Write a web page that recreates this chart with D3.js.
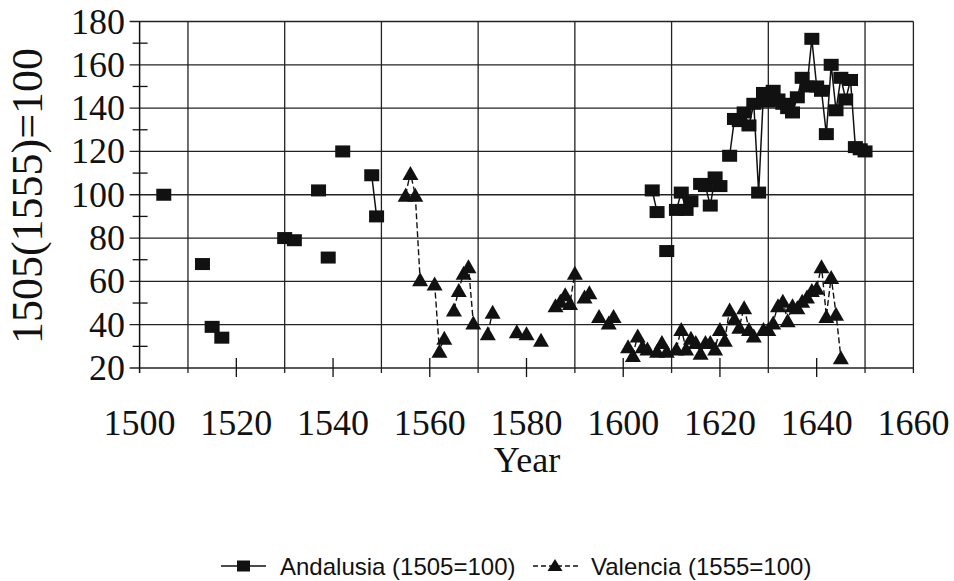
<!DOCTYPE html>
<html>
<head>
<meta charset="utf-8">
<script src="https://cdn.jsdelivr.net/npm/d3@7"></script>
<style>
  body { margin: 0; background: #fff; }
  svg { display: block; }
</style>
</head>
<body>
<div id="chart"></div>
<script>
// values
const andalusiaYears = [1505, 1513, 1515, 1517, 1530, 1532, 1537, 1539, 1542, 1548, 1549,
  1606, 1607, 1609, 1611, 1612, 1613, 1614, 1616, 1617, 1618, 1619, 1620,
  1622, 1623, 1624, 1625, 1626, 1627, 1628, 1629, 1630, 1631, 1632, 1633, 1634, 1635,
  1636, 1637, 1638, 1639, 1640, 1641, 1642, 1643, 1644, 1645, 1646, 1647, 1648, 1649, 1650];
const andalusiaValues = [100, 68, 39, 34, 80, 79, 102, 71, 120, 109, 90,
  102, 92, 74, 93, 101, 93, 97, 105, 104, 95, 108, 104,
  118, 135, 134, 138, 132, 142, 101, 147, 143, 148, 144, 142, 140, 138,
  145, 154, 150, 172, 150, 148, 128, 160, 139, 154, 144, 153, 122, 121, 120];

const valenciaYears = [1555, 1556, 1557, 1558, 1561, 1562, 1563, 1565, 1566, 1567, 1568, 1569,
  1572, 1573, 1578, 1580, 1583, 1586, 1587, 1588, 1589, 1590, 1592, 1593, 1595, 1597, 1598,
  1601, 1602, 1603, 1604, 1605, 1607, 1608, 1609, 1611, 1612, 1613, 1614, 1615, 1616, 1617,
  1618, 1619, 1620, 1621, 1622, 1623, 1624, 1625, 1626, 1627, 1629, 1630, 1631, 1632, 1633,
  1634, 1635, 1636, 1637, 1638, 1639, 1640, 1641, 1642, 1643, 1644, 1645];
const valenciaValues = [100, 110, 100, 61, 59, 28, 34, 47, 56, 64, 67, 41,
  36, 46, 37, 36, 33, 49, 51, 54, 50, 64, 53, 55, 44, 41, 44,
  30, 26, 35, 30, 29, 28, 32, 28, 29, 38, 29, 34, 32, 27, 32,
  32, 29, 38, 33, 47, 43, 39, 48, 38, 35, 38, 38, 41, 49, 51,
  42, 49, 48, 51, 53, 56, 57, 67, 44, 62, 45, 25];

const xTickLabels = [1500, 1520, 1540, 1560, 1580, 1600, 1620, 1640, 1660];
const xGridYears = [1510, 1530, 1550, 1570, 1590, 1610, 1630, 1650, 1660];
const yTickLabels = [20, 40, 60, 80, 100, 120, 140, 160, 180];
const yMinorTicks = [30, 50, 70, 90, 110, 130, 150, 170];

const seriesNames = ["Andalusia (1505=100)", "Valencia (1555=100)"];

const width = 954, height = 581;
const plotLeft = 139.6, plotRight = 913.4, plotTop = 21.5, plotBottom = 368;
const ink = "#111";
const serif = "Liberation Serif, Times New Roman, serif";

const svg = d3.select("#chart").append("svg")
  .attr("width", width)
  .attr("height", height);

const x = d3.scaleLinear().domain([1500, 1660]).range([plotLeft, plotRight]);
const y = d3.scaleLinear().domain([20, 180]).range([plotBottom, plotTop]);

// horizontal gridlines (stick out a bit to the left like ticks)
svg.append("g").selectAll("line")
  .data(yTickLabels)
  .join("line")
  .attr("x1", plotLeft - 10).attr("x2", plotRight)
  .attr("y1", d => y(d)).attr("y2", d => y(d))
  .attr("stroke", "#222").attr("stroke-width", 1.3);

// vertical gridlines at odd decades
svg.append("g").selectAll("line")
  .data(xGridYears)
  .join("line")
  .attr("x1", d => x(d)).attr("x2", d => x(d))
  .attr("y1", plotTop).attr("y2", plotBottom + 5)
  .attr("stroke", "#222").attr("stroke-width", 1.3);

// left axis
svg.append("line")
  .attr("x1", plotLeft).attr("x2", plotLeft)
  .attr("y1", plotTop).attr("y2", plotBottom + 5)
  .attr("stroke", ink).attr("stroke-width", 1.5);

// minor y ticks crossing the axis
svg.append("g").selectAll("line")
  .data(yMinorTicks)
  .join("line")
  .attr("x1", plotLeft - 7).attr("x2", plotLeft + 8)
  .attr("y1", d => y(d)).attr("y2", d => y(d))
  .attr("stroke", ink).attr("stroke-width", 1.3);

// x ticks crossing the bottom axis
svg.append("g").selectAll("line")
  .data(xTickLabels.slice(1, -1))
  .join("line")
  .attr("x1", d => x(d)).attr("x2", d => x(d))
  .attr("y1", plotBottom - 10).attr("y2", plotBottom + 9)
  .attr("stroke", ink).attr("stroke-width", 1.3);

// tick labels
svg.append("g").selectAll("text")
  .data(yTickLabels)
  .join("text")
  .attr("x", 125)
  .attr("y", d => y(d) + 12)
  .attr("text-anchor", "end")
  .attr("font-family", serif)
  .attr("font-size", 36)
  .attr("fill", ink)
  .text(d => d);

svg.append("g").selectAll("text")
  .data(xTickLabels)
  .join("text")
  .attr("x", d => x(d))
  .attr("y", 435)
  .attr("text-anchor", "middle")
  .attr("font-family", serif)
  .attr("font-size", 36)
  .attr("fill", ink)
  .text(d => d);

svg.append("text")
  .attr("x", 527).attr("y", 472)
  .attr("text-anchor", "middle")
  .attr("font-family", serif)
  .attr("font-size", 36)
  .attr("fill", ink)
  .text("Year");

svg.append("text")
  .attr("transform", "translate(42,196) rotate(-90)")
  .attr("text-anchor", "middle")
  .attr("font-family", serif)
  .attr("font-size", 44)
  .attr("fill", ink)
  .text("1505(1555)=100");

// split a series into runs of consecutive years
function runs(years, values) {
  const out = [];
  let cur = [];
  years.forEach((yr, i) => {
    if (cur.length && yr - cur[cur.length - 1].year !== 1) {
      out.push(cur);
      cur = [];
    }
    cur.push({ year: yr, value: values[i] });
  });
  if (cur.length) out.push(cur);
  return out;
}

const line = d3.line().x(d => x(d.year)).y(d => y(d.value));

const andalusia = andalusiaYears.map((yr, i) => ({ year: yr, value: andalusiaValues[i] }));
const valencia = valenciaYears.map((yr, i) => ({ year: yr, value: valenciaValues[i] }));

svg.append("g").selectAll("path")
  .data(runs(valenciaYears, valenciaValues).filter(r => r.length > 1))
  .join("path")
  .attr("d", line)
  .attr("fill", "none")
  .attr("stroke", ink)
  .attr("stroke-width", 1.4)
  .attr("stroke-dasharray", "6,3");

svg.append("g").selectAll("path")
  .data(runs(andalusiaYears, andalusiaValues).filter(r => r.length > 1))
  .join("path")
  .attr("d", line)
  .attr("fill", "none")
  .attr("stroke", ink)
  .attr("stroke-width", 1.5);

const tri = (cx, cy, w, h) => `M${cx},${cy - h / 2}L${cx + w / 2},${cy + h / 2}L${cx - w / 2},${cy + h / 2}Z`;

svg.append("g").selectAll("path")
  .data(valencia)
  .join("path")
  .attr("d", d => tri(x(d.year), y(d.value), 16, 14))
  .attr("fill", ink);

svg.append("g").selectAll("rect")
  .data(andalusia)
  .join("rect")
  .attr("x", d => x(d.year) - 7.5)
  .attr("y", d => y(d.value) - 6)
  .attr("width", 15)
  .attr("height", 12)
  .attr("fill", ink);

// legend along the bottom
const legend = svg.append("g")
  .attr("font-family", "Liberation Sans, Arial, sans-serif")
  .attr("font-size", 24)
  .attr("fill", ink);
const ly = 566;

legend.append("line").attr("x1", 221).attr("x2", 266).attr("y1", ly).attr("y2", ly)
  .attr("stroke", ink).attr("stroke-width", 1.5);
legend.append("rect").attr("x", 237).attr("y", ly - 5.5).attr("width", 13).attr("height", 11).attr("fill", ink);
legend.append("text").attr("x", 280).attr("y", ly + 8.5).text(seriesNames[0]);

legend.append("line").attr("x1", 533).attr("x2", 578).attr("y1", ly).attr("y2", ly)
  .attr("stroke", ink).attr("stroke-width", 1.4).attr("stroke-dasharray", "5,3");
legend.append("path").attr("d", tri(555, ly - 1, 15, 12)).attr("fill", ink);
legend.append("text").attr("x", 591).attr("y", ly + 8.5).text(seriesNames[1]);
</script>
</body>
</html>
